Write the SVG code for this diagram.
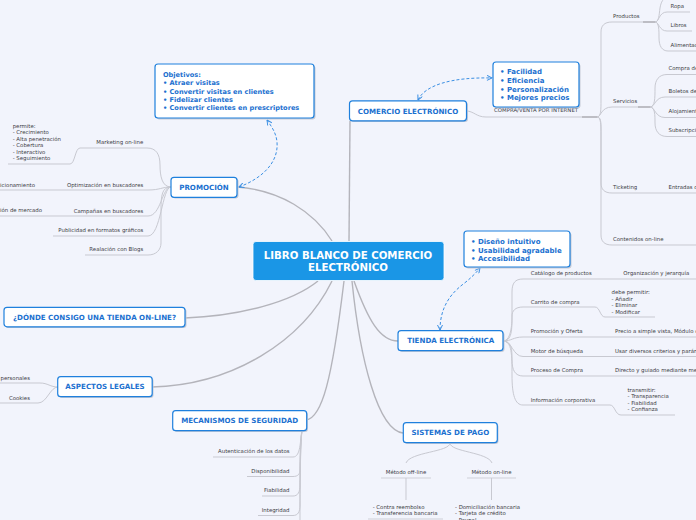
<svg xmlns="http://www.w3.org/2000/svg" width="696" height="520" viewBox="0 0 696 520">
<defs>
<style>
.bg{fill:#f2f4fc}
.main{stroke:#b4b4bb;stroke-width:1.4;fill:none}
.con{stroke:#c8c9d1;stroke-width:1;fill:none}
.thick{stroke:#bdbdc4;stroke-width:2;fill:none}
.ul{stroke:#cfd0d8;stroke-width:1;fill:none}
.dash{stroke:#3b8fe3;stroke-width:1;fill:none;stroke-dasharray:3 2}
.box{fill:#ffffff;stroke:#1f80dd;stroke-width:1.2}
.shadow{fill:#c5cad6}
.nt{font-family:"DejaVu Sans",Verdana,sans-serif;font-weight:bold;font-size:7.1px;fill:#1b70cf;text-anchor:middle}
.bt{font-family:"DejaVu Sans",Verdana,sans-serif;font-weight:bold;font-size:6.6px;fill:#1b70cf}
.bt2{font-family:"DejaVu Sans",Verdana,sans-serif;font-weight:bold;font-size:7px;fill:#1b70cf}
.lb{font-family:"DejaVu Sans",Verdana,sans-serif;font-size:5.4px;fill:#3c3c44}
.end{text-anchor:end}
.ct{font-family:"DejaVu Sans",Verdana,sans-serif;font-weight:bold;font-size:10.2px;fill:#ffffff;text-anchor:middle}
</style>
<marker id="ah" viewBox="0 0 6 6" refX="5.5" refY="3" markerWidth="6" markerHeight="6" orient="auto-start-reverse" markerUnits="userSpaceOnUse">
<path d="M0.5,0.5 L5.5,3 L0.5,5.5" stroke="#3b8fe3" stroke-width="1" fill="none"/>
</marker>
</defs>
<rect class="bg" x="0" y="0" width="696" height="520"/>

<g id="connectors">
<path class="main" d="M349 241 L350 121"/>
<path class="main" d="M237 187 C280 190 314 212 332 241"/>
<path class="main" d="M185 318 C240 316 292 302 318 281"/>
<path class="main" d="M152 387 C232 385 302 342 332 281"/>
<path class="main" d="M306 420 C322 418 332 380 344 281"/>
<path class="main" d="M354 281 C368 320 380 341 398 341"/>
<path class="main" d="M352 281 C360 360 378 430 403 433"/>

<path class="dash" marker-start="url(#ah)" marker-end="url(#ah)" d="M239 187 C258 180 279 165 277 142 C276 132 271 126 267 120"/>
<path class="dash" marker-start="url(#ah)" marker-end="url(#ah)" d="M418 100 C425 85 452 77 492 78"/>
<path class="dash" marker-start="url(#ah)" marker-end="url(#ah)" d="M440 330 C440 306 452 293 462 285 C470 279 476 273 480 268"/>

<path class="con" d="M466 111 C474 111 476 117 486 117 L597 117"/>
<path class="thick" d="M582 117 L597 117"/>
<path class="con" d="M597 117 C601 117 601 110 601 100 L601 32 C601 26 604 22 612 22 L655 22"/>
<path class="con" d="M597 117 C601 117 601 107 612 107 L650 107"/>
<path class="con" d="M597 117 C601 117 601 122 601 130 L601 183 C601 189 604 193 612 193 L696 193"/>
<path class="con" d="M597 117 C601 117 601 125 601 135 L601 235 C601 241 604 245 612 245 L696 245"/>
<path class="thick" d="M643 22 L655 22"/>
<path class="thick" d="M638 107 L650 107"/>
<path class="con" d="M655 22 C659 22 659 15 660 8 C661 2 663 -2 668 -3"/>
<path class="con" d="M655 22 C659 22 659 12 667 12 L690 12"/>
<path class="con" d="M655 22 C659 22 659 31 667 31 L692 31"/>
<path class="con" d="M655 22 C659 22 659 30 659 38 C659 46 662 51 668 51 L696 51"/>
<path class="con" d="M650 107 C655 107 655 98 655 88 C655 80 659 74.5 667 74.5 L696 74.5"/>
<path class="con" d="M650 107 C655 107 655 97 665 97 L696 97"/>
<path class="con" d="M650 107 C655 107 655 117.5 665 117.5 L696 117.5"/>
<path class="con" d="M650 107 C655 107 655 115 655 123 C655 131 659 136.5 667 136.5 L696 136.5"/>

<path class="con" d="M171 187 C162 187 160 176 160 165 C160 154 156 148 147 148 L80 148 C75 148 75 164 70 164 L8 164"/>
<path class="con" d="M171 187 C162 187 160 190 148 190 L0 190"/>
<path class="con" d="M171 187 C162 187 161 216 148 216 L0 216"/>
<path class="con" d="M171 187 C162 187 161 236 148 236 L53 236"/>
<path class="con" d="M171 187 C162 187 161 195 161 210 L161 243 C161 250 156 255 148 255 L85 255"/>

<path class="con" d="M58 387 C50 387 48 383 40 383 L0 383"/>
<path class="con" d="M58 387 C50 387 47 403 38 403 L0 403"/>

<path class="con" d="M302 430 C300 440 301 457 293 457 L213 457"/>
<path class="con" d="M302 430 C300 445 300 460 300 470 C300 474 298 476.5 293 476.5 L247 476.5"/>
<path class="con" d="M302 430 C300 445 300 470 300 485 C300 492 298 496 293 496 L262 496"/>
<path class="con" d="M302 430 C300 445 300 490 300 505 C300 512 298 515.5 293 515.5 L258 515.5"/>
<path class="con" d="M302 430 C300 450 300 500 300 520"/>

<path class="con" d="M450 443 C450 452 410 452 406 463"/>
<path class="con" d="M450 443 C450 452 488 452 492 463"/>
<path class="ul" d="M381 478 L431 478"/>
<path class="ul" d="M467 478 L516 478"/>
<path class="con" d="M406 478 L406 500"/>
<path class="con" d="M491.5 478 L491.5 500"/>
<path class="ul" d="M368 519 L443 519"/>

<path class="con" d="M503 341 C512 341 512 330 512 315 L512 292 C512 283 515 279 523 279 L696 279"/>
<path class="con" d="M503 341 C512 341 512 320 512 316 C512 311 515 307 523 307 L595 307 C600 307 600 317 605 317 L655 317"/>
<path class="con" d="M503 341 C512 341 513 337 523 337 L696 337"/>
<path class="con" d="M503 341 C512 341 513 356.5 523 356.5 L696 356.5"/>
<path class="con" d="M503 341 C512 341 512 350 512 360 C512 370 515 376 523 376 L696 376"/>
<path class="con" d="M503 341 C512 341 512 355 512 375 C512 395 515 405 523 405 L610 405 C615 405 615 415 621 415 L675 415"/>
</g>

<g id="center">
<rect x="253" y="241.5" width="191" height="39" rx="3" fill="#1a96e6" stroke="#ffffff" stroke-width="0.8"/>
<text class="ct" x="348" y="259">LIBRO BLANCO DE COMERCIO</text>
<text class="ct" x="348" y="271">ELECTRÓNICO</text>
</g>

<g id="comercio">
<rect class="shadow" x="351" y="102" width="117" height="20" rx="3"/>
<rect class="box" x="349.5" y="100.8" width="117" height="20" rx="3"/>
<text class="nt" x="408" y="114.2">COMERCIO ELECTRÓNICO</text>
</g>
<g id="compraventa">
<text class="lb" x="494" y="112.2">COMPRA/VENTA POR INTERNET</text>
</g>
<g id="productos">
<text class="lb" x="613" y="17.8">Productos</text>
<text class="lb" x="670.5" y="7.8">Ropa</text>
<text class="lb" x="670.5" y="26.8">Libros</text>
<text class="lb" x="670.5" y="46.8">Alimentación</text>
</g>
<g id="servicios">
<text class="lb" x="613" y="102.8">Servicios</text>
<text class="lb" x="668.5" y="70">Compra de billetes</text>
<text class="lb" x="668.5" y="92.5">Boletos de avión</text>
<text class="lb" x="668.5" y="113">Alojamiento</text>
<text class="lb" x="668.5" y="132">Subscripciones</text>
</g>
<g id="ticketing">
<text class="lb" x="613" y="189">Ticketing</text>
<text class="lb" x="668.5" y="189">Entradas de eventos</text>
</g>
<g id="contenidos">
<text class="lb" x="613" y="240.8">Contenidos on-line</text>
</g>

<g id="bubble-comercio">
<rect class="shadow" x="494.5" y="63.5" width="86" height="45" rx="3"/>
<rect class="box" x="493" y="62" width="86" height="45" rx="3"/>
<text class="bt2" x="500" y="74.3">• Facilidad</text>
<text class="bt2" x="500" y="82.7">• Eficiencia</text>
<text class="bt2" x="500" y="91.5">• Personalización</text>
<text class="bt2" x="500" y="100">• Mejores precios</text>
</g>

<g id="objetivos">
<rect class="shadow" x="156.5" y="65.5" width="159" height="54" rx="3"/>
<rect class="box" x="155" y="64" width="159" height="54" rx="3"/>
<text class="bt" x="163" y="77">Objetivos:</text>
<text class="bt" x="163" y="85.3">• Atraer visitas</text>
<text class="bt" x="163" y="93.6">• Convertir visitas en clientes</text>
<text class="bt" x="163" y="101.9">• Fidelizar clientes</text>
<text class="bt" x="163" y="110.2">• Convertir clientes en prescriptores</text>
</g>

<g id="promocion">
<rect class="shadow" x="172.5" y="178.5" width="66" height="20" rx="3"/>
<rect class="box" x="171" y="177.3" width="66" height="20" rx="3"/>
<text class="nt" x="204" y="189.8">PROMOCIÓN</text>
</g>
<g id="marketing">
<text class="lb end" x="143.3" y="144">Marketing on-line</text>
<text class="lb" x="12.7" y="127.5">permite:</text>
<text class="lb" x="12.7" y="134">- Crecimiento</text>
<text class="lb" x="12.7" y="140.7">- Alta penetración</text>
<text class="lb" x="12.7" y="147.2">- Cobertura</text>
<text class="lb" x="12.7" y="153.7">- Interactivo</text>
<text class="lb" x="12.7" y="160.2">- Seguimiento</text>
</g>
<g id="optimizacion">
<text class="lb end" x="143.3" y="186.8">Optimización en buscadores</text>
<text class="lb end" x="35" y="186.8">Posicionamiento</text>
</g>
<g id="campanas">
<text class="lb end" x="143.3" y="212.8">Campañas en buscadores</text>
<text class="lb end" x="42" y="212">Investigación de mercado</text>
</g>
<g id="publicidad">
<text class="lb end" x="143.3" y="231.8">Publicidad en formatos gráficos</text>
</g>
<g id="blogs">
<text class="lb end" x="143.3" y="250.8">Realación con Blogs</text>
</g>

<g id="donde">
<rect class="shadow" x="5.5" y="308.5" width="181" height="19.5" rx="3"/>
<rect class="box" x="4" y="307.3" width="181" height="19.5" rx="3"/>
<text class="nt" x="94.5" y="319.8">¿DÓNDE CONSIGO UNA TIENDA ON-LINE?</text>
</g>

<g id="aspectos">
<rect class="shadow" x="59" y="378" width="94.5" height="20" rx="3"/>
<rect class="box" x="57.7" y="376.7" width="94.5" height="20" rx="3"/>
<text class="nt" x="105" y="389.2">ASPECTOS LEGALES</text>
<text class="lb end" x="30" y="379.5">Datos personales</text>
<text class="lb end" x="30" y="399.5">Cookies</text>
</g>

<g id="mecanismos">
<rect class="shadow" x="174" y="412" width="134" height="20" rx="3"/>
<rect class="box" x="172.7" y="410.7" width="134" height="20" rx="3"/>
<text class="nt" x="239.7" y="423.2">MECANISMOS DE SEGURIDAD</text>
<text class="lb end" x="289.5" y="452.5">Autenticación de los datos</text>
<text class="lb end" x="289.5" y="472.5">Disponibilidad</text>
<text class="lb end" x="289.5" y="491.8">Fiabilidad</text>
<text class="lb end" x="289.5" y="511.8">Integridad</text>
</g>

<g id="tienda">
<rect class="shadow" x="399.5" y="332" width="105" height="20" rx="3"/>
<rect class="box" x="398" y="330.7" width="105" height="20" rx="3"/>
<text class="nt" x="450.7" y="343.2">TIENDA ELECTRÓNICA</text>
</g>
<g id="bubble-tienda">
<rect class="shadow" x="465.5" y="232.5" width="106" height="36" rx="3"/>
<rect class="box" x="464" y="231" width="106" height="36" rx="3"/>
<text class="bt2" x="471" y="244">• Diseño intuitivo</text>
<text class="bt2" x="471" y="252.5">• Usabilidad agradable</text>
<text class="bt2" x="471" y="261">• Accesibilidad</text>
</g>
<g id="tienda-items">
<text class="lb" x="530.7" y="275">Catálogo de productos</text>
<text class="lb" x="623.3" y="275">Organización y jerarquía</text>
<text class="lb" x="530.7" y="304">Carrito de compra</text>
<text class="lb" x="611.5" y="294">debe permitir:</text>
<text class="lb" x="611.5" y="300.6">- Añadir</text>
<text class="lb" x="611.5" y="307">- Eliminar</text>
<text class="lb" x="611.5" y="313.5">- Modificar</text>
<text class="lb" x="530.7" y="332.8">Promoción y Oferta</text>
<text class="lb" x="615" y="332.8">Precio a simple vista, Módulo de ofertas</text>
<text class="lb" x="530.7" y="352.5">Motor de búsqueda</text>
<text class="lb" x="615" y="352.5">Usar diversos criterios y parámetros</text>
<text class="lb" x="530.7" y="371.8">Proceso de Compra</text>
<text class="lb" x="615" y="371.8">Directo y guiado mediante menús</text>
<text class="lb" x="530.7" y="401.8">Información corporativa</text>
<text class="lb" x="627.5" y="391.8">transmitir:</text>
<text class="lb" x="627.5" y="398.2">- Transparencia</text>
<text class="lb" x="627.5" y="404.6">- Fiabilidad</text>
<text class="lb" x="627.5" y="411">- Confianza</text>
</g>

<g id="sistemas">
<rect class="shadow" x="404.5" y="424" width="94" height="20" rx="3"/>
<rect class="box" x="403.3" y="422.7" width="94" height="20" rx="3"/>
<text class="nt" x="450.3" y="435.2">SISTEMAS DE PAGO</text>
<text class="lb" x="406" y="474" text-anchor="middle">Método off-line</text>
<text class="lb" x="491.5" y="474" text-anchor="middle">Método on-line</text>
<text class="lb" x="372.7" y="508.5">- Contra reembolso</text>
<text class="lb" x="372.7" y="515">- Transferencia bancaria</text>
<text class="lb" x="455" y="508.5">- Domiciliación bancaria</text>
<text class="lb" x="455" y="515">- Tarjeta de crédito</text>
<text class="lb" x="455" y="521.5">- Paypal</text>
</g>
</svg>
